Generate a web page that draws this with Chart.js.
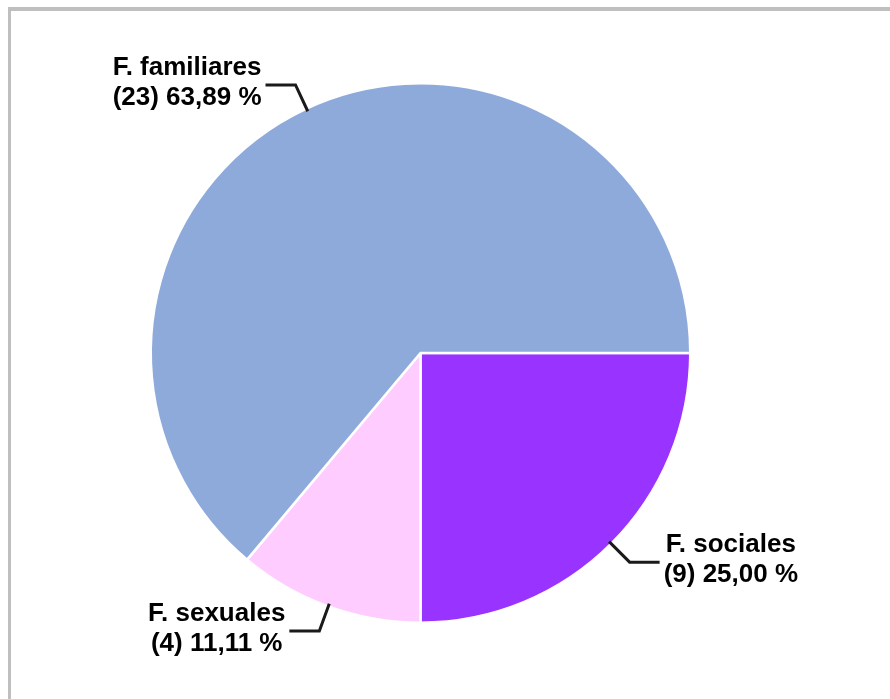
<!DOCTYPE html>
<html>
<head>
<meta charset="utf-8">
<script src="https://cdn.jsdelivr.net/npm/chart.js@4.4.1/dist/chart.umd.min.js"></script>
<style>
  html, body { margin: 0; padding: 0; background: #ffffff; overflow: hidden; }
  #wrap { position: relative; width: 890px; height: 699px; }
  #frame { position: absolute; left: 8px; top: 7px; width: 1000px; height: 1000px;
           border-top: 4px solid #bfbfbf; border-left: 3px solid #bfbfbf; box-sizing: border-box; }
  #c { position: absolute; left: 0; top: 0; }
</style>
</head>
<body>
<div id="wrap">
  <div id="frame"></div>
  <canvas id="c" width="890" height="699"></canvas>
</div>
<script>
const categories = ['F. sociales', 'F. sexuales', 'F. familiares'];
const counts = [9, 4, 23];
const sliceColors = ['#9933FF', '#FFCCFF', '#8EAADB'];

const total = counts.reduce((a, b) => a + b, 0);

const leaderLabels = {
  id: 'leaderLabels',
  afterDatasetsDraw(chart) {
    const ctx = chart.ctx;
    const meta = chart.getDatasetMeta(0);
    ctx.save();
    ctx.font = 'bold 26px "Liberation Sans", Arial, sans-serif';
    meta.data.forEach((arc, i) => {
      const p = arc.getProps(['x', 'y', 'startAngle', 'endAngle', 'outerRadius'], true);
      const mid = (p.startAngle + p.endAngle) / 2;
      const c = Math.cos(mid), s = Math.sin(mid);
      const x0 = p.x + c * (p.outerRadius - 3), y0 = p.y + s * (p.outerRadius - 3);
      const x1 = p.x + c * (p.outerRadius + 26), y1 = p.y + s * (p.outerRadius + 26);
      const dir = c >= 0 ? 1 : -1;
      const x2 = x1 + dir * 30, y2 = y1;
      ctx.strokeStyle = '#1a1a1a';
      ctx.lineWidth = 3;
      ctx.lineJoin = 'miter';
      ctx.beginPath();
      ctx.moveTo(x0, y0);
      ctx.lineTo(x1, y1);
      ctx.lineTo(x2, y2);
      ctx.stroke();

      const pct = (counts[i] / total * 100).toFixed(2).replace('.', ',');
      const lines = [categories[i], '(' + counts[i] + ') ' + pct + ' %'];
      const widths = lines.map(t => ctx.measureText(t).width);
      const bw = Math.max(...widths);
      const left = dir > 0 ? x2 + 4 : x2 - 4 - bw;
      const cx = left + bw / 2;
      ctx.fillStyle = '#000000';
      ctx.textAlign = 'center';
      ctx.textBaseline = 'alphabetic';
      ctx.fillText(lines[0], cx, y2 - 10);
      ctx.fillText(lines[1], cx, y2 + 20);
    });
    ctx.restore();
  }
};

new Chart(document.getElementById('c'), {
  type: 'pie',
  data: {
    labels: categories,
    datasets: [{
      data: counts,
      backgroundColor: sliceColors,
      borderColor: '#ffffff',
      borderWidth: 2.5
    }]
  },
  options: {
    responsive: false,
    animation: false,
    rotation: 90,
    layout: { padding: { left: 149, right: 198, top: 82, bottom: 75 } },
    plugins: { legend: { display: false }, tooltip: { enabled: false } }
  },
  plugins: [leaderLabels]
});
</script>
</body>
</html>
